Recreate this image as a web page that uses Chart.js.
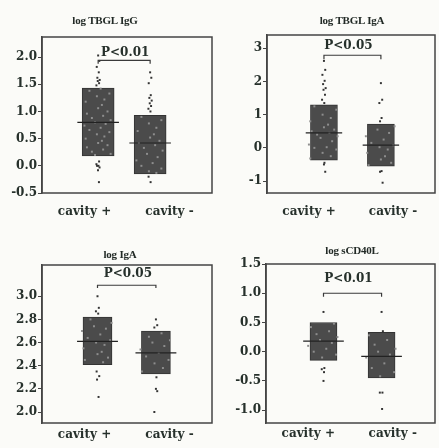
<!DOCTYPE html>
<html>
<head>
<meta charset="utf-8">
<script src="https://cdn.jsdelivr.net/npm/chart.js@4.4.1/dist/chart.umd.min.js"></script>
<style>
  body { margin: 0; background: #fbfbf8; }
  #wrap { position: relative; width: 439px; height: 448px; overflow: hidden; }
  .panel { position: absolute; }
  .title {
    position: absolute;
    transform: translateX(-50%);
    white-space: nowrap;
    font: bold 11px "Liberation Serif", serif;
    letter-spacing: -0.2px;
    color: #222a26;
  }
</style>
</head>
<body>
<div id="wrap">
  <div class="panel" style="left:0;top:0"><canvas id="c1" width="219" height="224"></canvas></div>
  <div class="panel" style="left:219px;top:0"><canvas id="c2" width="220" height="224"></canvas></div>
  <div class="panel" style="left:0;top:224px"><canvas id="c3" width="219" height="224"></canvas></div>
  <div class="panel" style="left:219px;top:224px"><canvas id="c4" width="220" height="224"></canvas></div>
  <div class="title" style="left:105px;top:14px">log TBGL IgG</div>
  <div class="title" style="left:352px;top:14px">log TBGL IgA</div>
  <div class="title" style="left:120px;top:248px">log IgA</div>
  <div class="title" style="left:352px;top:244px">log sCD40L</div>
</div>
<script>
const groups = ['cavity +', 'cavity -'];

// log TBGL IgG
const iggTicks = [-0.5, 0, 0.5, 1, 1.5, 2];
const iggBox = [[0.18, 1.43], [-0.15, 0.93]];
const iggMedian = [0.8, 0.42];
const iggPos = [2.03, 1.93, 1.82, 1.72, 1.62, 1.58, 1.56, 1.52, 1.48, 1.42, 1.38, 1.33, 1.28, 1.22, 1.18, 1.12, 1.06, 1.0, 0.96, 0.92, 0.88, 0.84, 0.8, 0.77, 0.74, 0.7, 0.66, 0.62, 0.58, 0.54, 0.5, 0.46, 0.42, 0.38, 0.34, 0.3, 0.26, 0.22, 0.2, 0.08, 0.03, 0.0, 0.0, -0.03, -0.08, -0.3];
const iggNeg = [1.72, 1.62, 1.52, 1.3, 1.25, 1.2, 1.15, 1.1, 1.05, 1.0, 0.9, 0.84, 0.78, 0.7, 0.64, 0.58, 0.52, 0.46, 0.42, 0.38, 0.33, 0.28, 0.22, 0.16, 0.1, 0.05, 0.0, -0.05, -0.1, -0.13, -0.2, -0.3];
const iggP = ['P<0.01', 1.94, 2.08];

// log TBGL IgA
const tbglIgaTicks = [-1, 0, 1, 2, 3];
const tbglIgaBox = [[-0.37, 1.3], [-0.55, 0.72]];
const tbglIgaMedian = [0.45, 0.08];
const tbglIgaPos = [2.62, 2.35, 2.2, 2.02, 1.92, 1.8, 1.75, 1.6, 1.45, 1.35, 1.25, 1.15, 1.0, 0.9, 0.8, 0.7, 0.62, 0.55, 0.5, 0.45, 0.4, 0.35, 0.3, 0.2, 0.1, 0.02, 0.0, -0.05, -0.15, -0.25, -0.32, -0.45, -0.5, -0.72];
const tbglIgaNeg = [1.95, 1.45, 1.35, 0.9, 0.8, 0.65, 0.55, 0.45, 0.35, 0.25, 0.15, 0.08, 0.02, -0.05, -0.15, -0.25, -0.35, -0.45, -0.52, -0.7, -0.72, -1.05];
const tbglIgaP = ['P<0.05', 2.79, 3.08];

// log IgA
const igaTicks = [2.0, 2.2, 2.4, 2.6, 2.8, 3.0];
const igaBox = [[2.41, 2.82], [2.33, 2.7]];
const igaMedian = [2.61, 2.51];
const igaPos = [3.0, 2.9, 2.87, 2.85, 2.8, 2.77, 2.74, 2.72, 2.7, 2.67, 2.64, 2.62, 2.6, 2.58, 2.55, 2.52, 2.5, 2.47, 2.45, 2.43, 2.35, 2.31, 2.28, 2.13];
const igaNeg = [2.8, 2.75, 2.73, 2.68, 2.65, 2.62, 2.6, 2.57, 2.54, 2.51, 2.48, 2.45, 2.42, 2.38, 2.35, 2.3, 2.2, 2.18, 2.0];
const igaP = ['P<0.05', 3.095, 3.19];

// log sCD40L
const cd40Ticks = [-1.0, -0.5, 0, 0.5, 1.0, 1.5];
const cd40Box = [[-0.15, 0.5], [-0.45, 0.33]];
const cd40Median = [0.18, -0.08];
const cd40Pos = [0.68, 0.48, 0.42, 0.35, 0.3, 0.25, 0.2, 0.15, 0.1, 0.05, 0.0, -0.05, -0.1, -0.28, -0.3, -0.35, -0.5];
const cd40Neg = [0.68, 0.35, 0.28, 0.2, 0.12, 0.05, 0.0, -0.05, -0.1, -0.2, -0.28, -0.35, -0.42, -0.7, -0.7, -0.98];
const cd40P = ['P<0.01', 1.0, 1.24];

// horizontal spread of the dots (style only)
const jitter = [0.0, 0.15, -0.18, 0.08, -0.1, 0.2, -0.05, 0.12, -0.22, 0.04, -0.14, 0.18, -0.02, 0.1, -0.2, 0.06];

const ink = '#26302b';

function boxPanel(id, o) {
  const pts = (vals, gi) => vals.map((v, i) => {
    const inside = v >= o.box[gi][0] && v <= o.box[gi][1];
    return { x: gi + jitter[i % jitter.length] * (inside ? 1.2 : 0.15), y: v, inside };
  });
  const medLine = gi => [
    { x: gi - o.medW, y: o.median[gi] },
    { x: gi + o.medW, y: o.median[gi] },
  ];
  const [pText, pY, pTextY] = o.p;
  const drop = (o.ticks[1] - o.ticks[0]) * 0.12;

  new Chart(document.getElementById(id), {
    type: 'bar',
    data: {
      labels: groups,
      datasets: [
        {
          type: 'bar',
          data: o.box.map((b, i) => ({ x: i, y: b })),
          backgroundColor: '#4b4b4b',
          borderColor: '#333',
          borderWidth: 1,
          borderSkipped: false,
          barThickness: o.barW,
          order: 4,
        },
        {
          type: 'scatter',
          data: [...pts(o.pos, 0), ...pts(o.neg, 1)],
          pointStyle: 'rect',
          pointRadius: 1.4,
          borderWidth: 0,
          backgroundColor: ctx => (ctx.raw && ctx.raw.inside ? '#8e8e8e' : '#333333'),
          order: 3,
        },
        { type: 'line', data: medLine(0), borderColor: '#222', borderWidth: 1.2, pointRadius: 0, order: 1 },
        { type: 'line', data: medLine(1), borderColor: '#222', borderWidth: 1.2, pointRadius: 0, order: 1 },
        {
          type: 'line',
          data: [
            { x: 0, y: pY - drop },
            { x: 0, y: pY },
            { x: 1, y: pY },
            { x: 1, y: pY - drop },
          ],
          borderColor: '#3a3a3a',
          borderWidth: 1.2,
          pointRadius: 0,
          order: 1,
        },
      ],
    },
    options: {
      responsive: false,
      animation: false,
      layout: { padding: { top: o.padTop, right: o.padRight, left: 0, bottom: 0 } },
      plugins: { legend: { display: false }, tooltip: { enabled: false } },
      scales: {
        x: { type: 'linear', display: false, offset: false, min: o.xMin, max: o.xMax, grid: { offset: false } },
        xl: {
          type: 'category',
          position: 'bottom',
          offset: true,
          grid: { display: false, drawTicks: false, tickLength: 0 },
          border: { display: false },
          ticks: { color: ink, padding: o.xPad, font: { family: 'DejaVu Serif', weight: 'bold', size: 12 } },
          afterFit: s => { s.height = o.xH; },
        },
        y: {
          type: 'linear',
          min: o.yMin,
          max: o.yMax,
          afterBuildTicks: s => { s.ticks = o.ticks.map(v => ({ value: v })); },
          afterFit: s => { s.width = o.yW; },
          grid: { drawOnChartArea: false, drawTicks: true, tickLength: 4, color: '#444' },
          border: { display: true, color: '#444', width: 1.5 },
          ticks: {
            color: ink,
            padding: 1,
            font: { family: 'DejaVu Serif', weight: 'bold', size: 12 },
            callback: v => v.toFixed(o.dec),
          },
        },
      },
    },
    plugins: [{
      id: 'frameAndP',
      afterDatasetsDraw(chart) {
        const { ctx, chartArea: a, scales } = chart;
        ctx.save();
        ctx.strokeStyle = '#444';
        ctx.lineWidth = 1.5;
        ctx.strokeRect(a.left, a.top, a.right - a.left, a.bottom - a.top);
        ctx.fillStyle = ink;
        ctx.font = 'bold 12px "DejaVu Serif"';
        ctx.textAlign = 'center';
        ctx.textBaseline = 'middle';
        ctx.fillText(pText, scales.x.getPixelForValue(o.pX), scales.y.getPixelForValue(pTextY));
        ctx.restore();
      },
    }],
  });
}

boxPanel('c1', {
  box: iggBox, median: iggMedian, pos: iggPos, neg: iggNeg, ticks: iggTicks, p: iggP, dec: 1,
  yMin: -0.5, yMax: 2.37, xMin: -1.08, xMax: 2.19, pX: 0.52,
  padTop: 37, padRight: 7, yW: 42, xH: 31, xPad: 12, barW: 32, medW: 0.4,
});
boxPanel('c2', {
  box: tbglIgaBox, median: tbglIgaMedian, pos: tbglIgaPos, neg: tbglIgaNeg, ticks: tbglIgaTicks, p: tbglIgaP, dec: 0,
  yMin: -1.36, yMax: 3.4, xMin: -1.0, xMax: 1.95, pX: 0.43,
  padTop: 35, padRight: 0, yW: 48, xH: 31, xPad: 12, barW: 27, medW: 0.32,
});
boxPanel('c3', {
  box: igaBox, median: igaMedian, pos: igaPos, neg: igaNeg, ticks: igaTicks, p: igaP, dec: 1,
  yMin: 1.905, yMax: 3.27, xMin: -0.95, xMax: 1.96, pX: 0.52,
  padTop: 41, padRight: 7, yW: 42, xH: 25, xPad: 5, barW: 29, medW: 0.35,
});
boxPanel('c4', {
  box: cd40Box, median: cd40Median, pos: cd40Pos, neg: cd40Neg, ticks: cd40Ticks, p: cd40P, dec: 1,
  yMin: -1.22, yMax: 1.5, xMin: -0.99, xMax: 1.92, pX: 0.43,
  padTop: 40, padRight: 0, yW: 47, xH: 25, xPad: 4, barW: 27, medW: 0.35,
});
</script>
</body>
</html>
